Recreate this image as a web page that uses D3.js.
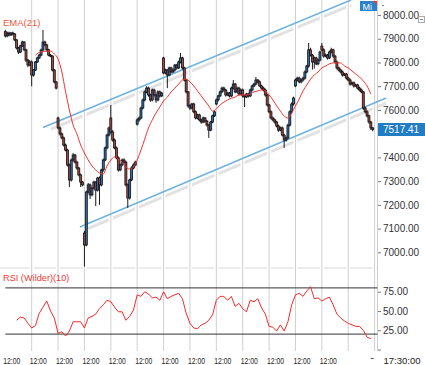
<!DOCTYPE html>
<meta charset="utf-8">
<style>
body { margin: 0; background: #fff; }
svg { display: block; font-family: "Liberation Sans", Arial, sans-serif; }
</style>
<script src="https://d3js.org/d3.v7.min.js"></script>
<div id="chart"></div>
<script>
// half-hour bars, 14 per session, 14 sessions
var opens = [
  7930,7912,7924,7916,7924,7920,7895,7861,7844,7870,7886,7853,7810,7789,
  7802,7747,7768,7802,7819,7831,7853,7886,7874,7853,7831,7827,7768,7718,
  7566,7524,7499,7482,7452,7431,7368,7305,7389,7410,7380,7355,7326,7296,
  7081,7031,7254,7284,7242,7271,7296,7262,7313,7284,7347,7389,7440,7494,
  7566,7507,7473,7440,7398,7347,7368,7389,7380,7284,7229,7305,7355,7368,
  7540,7558,7566,7608,7642,7676,7692,7663,7642,7684,7663,7642,7676,7659,
  7819,7756,7768,7747,7777,7760,7768,7789,7777,7802,7819,7777,7726,7676,
  7617,7608,7625,7592,7566,7579,7558,7549,7566,7553,7536,7515,7549,7575,
  7625,7642,7659,7676,7692,7684,7663,7671,7659,7692,7709,7676,7692,7667,
  7684,7659,7655,7667,7659,7684,7701,7709,7726,7718,7701,7692,7684,7663,
  7621,7592,7566,7558,7549,7532,7515,7524,7494,7473,7482,7536,7592,7625,
  7701,7726,7734,7718,7726,7734,7760,7785,7853,7831,7802,7819,7794,7810,
  7869,7853,7827,7831,7819,7844,7853,7827,7802,7777,7768,7760,7747,7751,
  7734,7726,7709,7714,7701,7705,7692,7684,7676,7608,7592,7575,7549,7524
];
var highs = [
  7938,7930,7930,7928,7930,7924,7898,7866,7874,7892,7890,7858,7815,7810,
  7808,7772,7806,7824,7836,7858,7937,7892,7878,7858,7836,7830,7772,7722,
  7572,7530,7505,7488,7458,7436,7374,7395,7418,7415,7386,7360,7332,7300,
  7090,7260,7292,7290,7276,7302,7300,7318,7320,7352,7395,7446,7500,7530,
  7621,7515,7480,7446,7404,7374,7395,7396,7386,7290,7310,7362,7375,7386,
  7564,7572,7614,7648,7682,7700,7698,7668,7690,7690,7668,7682,7682,7676,
  7824,7774,7772,7782,7782,7774,7794,7794,7808,7840,7824,7782,7730,7680,
  7624,7630,7630,7598,7584,7584,7562,7572,7570,7558,7540,7554,7580,7598,
  7648,7664,7682,7698,7698,7688,7676,7676,7698,7726,7714,7698,7698,7690,
  7690,7664,7672,7672,7690,7706,7714,7739,7730,7724,7706,7698,7690,7668,
  7626,7598,7572,7564,7554,7538,7530,7530,7500,7488,7542,7598,7632,7656,
  7732,7740,7740,7732,7740,7766,7790,7882,7862,7836,7825,7824,7816,7850,
  7882,7860,7838,7836,7850,7862,7858,7832,7808,7782,7774,7766,7756,7756,
  7740,7732,7720,7720,7710,7710,7698,7690,7680,7614,7598,7580,7554,7528
];
var lows = [
  7905,7906,7910,7912,7914,7890,7855,7836,7840,7865,7848,7802,7780,7784,
  7700,7740,7764,7798,7814,7826,7848,7868,7846,7826,7822,7762,7712,7686,
  7518,7492,7476,7446,7425,7362,7275,7298,7382,7374,7348,7320,7275,7278,
  6940,7025,7248,7225,7236,7265,7195,7256,7200,7278,7340,7384,7434,7488,
  7500,7466,7434,7392,7340,7342,7362,7374,7278,7187,7222,7300,7350,7362,
  7534,7550,7560,7602,7636,7670,7656,7634,7636,7656,7630,7636,7652,7654,
  7750,7750,7692,7742,7754,7755,7762,7770,7772,7796,7770,7720,7670,7610,
  7600,7602,7586,7560,7560,7552,7542,7544,7546,7530,7482,7510,7544,7570,
  7620,7636,7654,7670,7678,7656,7658,7652,7654,7686,7670,7670,7660,7662,
  7652,7612,7650,7652,7654,7678,7696,7704,7712,7696,7686,7678,7656,7614,
  7586,7560,7552,7542,7526,7508,7510,7488,7440,7466,7476,7530,7586,7618,
  7696,7720,7712,7712,7720,7728,7754,7778,7825,7770,7774,7788,7788,7804,
  7846,7820,7822,7812,7814,7838,7820,7796,7770,7762,7754,7740,7742,7728,
  7720,7702,7704,7694,7696,7686,7678,7670,7600,7586,7568,7542,7515,7510
];
var closes = [
  7912,7924,7916,7924,7920,7895,7861,7844,7870,7886,7853,7810,7789,7802,
  7747,7768,7802,7819,7831,7853,7886,7874,7853,7831,7827,7768,7718,7692,
  7524,7499,7482,7452,7431,7368,7305,7389,7410,7380,7355,7326,7296,7284,
  7031,7254,7284,7242,7271,7296,7262,7313,7284,7347,7389,7440,7494,7524,
  7507,7473,7440,7398,7347,7368,7389,7380,7284,7229,7305,7355,7368,7380,
  7558,7566,7608,7642,7676,7692,7663,7642,7684,7663,7642,7676,7659,7671,
  7756,7768,7747,7777,7760,7768,7789,7777,7802,7819,7777,7726,7676,7617,
  7608,7625,7592,7566,7579,7558,7549,7566,7553,7536,7515,7549,7575,7592,
  7642,7659,7676,7692,7684,7663,7671,7659,7692,7709,7676,7692,7667,7684,
  7659,7655,7667,7659,7684,7701,7709,7726,7718,7701,7692,7684,7663,7621,
  7592,7566,7558,7549,7532,7515,7524,7494,7473,7482,7536,7592,7625,7650,
  7726,7734,7718,7726,7734,7760,7785,7853,7831,7802,7819,7794,7810,7844,
  7853,7827,7831,7819,7844,7853,7827,7802,7777,7768,7760,7747,7751,7734,
  7726,7709,7714,7701,7705,7692,7684,7676,7608,7592,7575,7549,7524,7517.41
];

// EMA(21), read every second bar from bar 16
var emaStart = 16;
var emaValues = [
  7831,7842,7846,7848,7848,7836,7815,7760,7676,7600,
  7536,7499,7452,7418,7389,7364,7347,7334,7330,7364,
  7389,7402,7393,7380,7359,7351,7359,7389,7431,7477,
  7524,7558,7587,7612,7638,7654,7676,7692,7709,7726,
  7730,7718,7701,7680,7659,7638,7617,7595,7604,7621,
  7633,7642,7650,7654,7663,7663,7663,7667,7676,7680,
  7684,7680,7663,7642,7617,7595,7574,7566,7587,7617,
  7646,7680,7705,7730,7747,7760,7777,7785,7794,7798,
  7798,7798,7785,7777,7764,7751,7739,7722,7701,7667
];

// RSI (Wilder)(10), read every second bar from bar 6
var rsiStart = 6;
var rsiValues = [
  38,42,41,34,28,31,47,55,63,50,
  41,21,23,17.5,24,36,36,36,28,41,
  43,46,53,58,64,62,55,49,49,38,
  43,51,71,69,75,72,67,68,64,75,
  66,69,71,73,66,47,34,28,27,32,
  34,38,45,64,69,69,64,69,56,60,
  53,49,64,62,66,54,46,30,29,24,
  32,24,36,58,71,73,69,76,81.5,66,
  67,63,66,68,58,46,41,37,34,32,
  30,30,25,16,14
];

var priceTicks = [7000,7100,7200,7300,7400,7500,7600,7700,7800,7900,8000];
var rsiTicks = [0,25,50,75];
var rsiLevels = [20,80];
var sessionLabels = ["12:00","12:00","12:00","12:00","12:00","12:00","12:00",
                     "12:00","12:00","12:00","12:00","12:00","12:00"];
var barsPerSession = 14;
var sessionCount = 14;
var lastPrice = 7517.41;
var lastTime = "17:30:00";
// trend channel, [bar, price] at each end
var channelUpper = [[20, 7526], [183.5, 8063]];
var channelLower = [[39.6, 7107], [202.1, 7650]];

var W = 425, H = 365;
var svg = d3.select("#chart").append("svg").attr("width", W).attr("height", H);

var x = d3.scaleLinear().domain([0, barsPerSession * sessionCount]).range([5.3, 374.6]);
var y = d3.scaleLinear().domain([7000, 8000]).range([252.3, 15]);
var yr = d3.scaleLinear().domain([0, 100]).range([349.5, 272.5]);

var axisX = 377.5;

// channel shadows (under the grid)
[channelUpper, channelLower].forEach(function(c) {
  var slope = (y(c[1][1]) - y(c[0][1])) / (x(c[1][0]) - x(c[0][0]));
  svg.append("line")
    .attr("x1", x(c[0][0]) + 8).attr("y1", y(c[0][1]) + 8 * slope + 5)
    .attr("x2", x(c[1][0])).attr("y2", y(c[1][1]) + 5)
    .attr("stroke", "#e2e2e2").attr("stroke-width", 3);
});

// panel separator
svg.append("line").attr("x1", 0).attr("x2", axisX).attr("y1", 268).attr("y2", 268)
  .attr("stroke", "#d6d6d6");

// vertical session grid
var gridIdx = d3.range(1, sessionCount + 1).map(function(k){ return k * barsPerSession; });
svg.selectAll("line.gridw").data(gridIdx).enter().append("line")
  .attr("x1", function(d){ return x(d); }).attr("x2", function(d){ return x(d); })
  .attr("y1", 0).attr("y2", 351).attr("stroke", "#fff").attr("stroke-width", 4);
svg.selectAll("line.grid").data(gridIdx).enter().append("line")
  .attr("x1", function(d){ return x(d); }).attr("x2", function(d){ return x(d); })
  .attr("y1", 0).attr("y2", 351).attr("stroke", "#cfcfcf").attr("stroke-width", 1);

// right axis line
svg.append("line").attr("x1", axisX).attr("x2", axisX).attr("y1", 0).attr("y2", 351)
  .attr("stroke", "#cfcfcf");

// channel lines
[channelUpper, channelLower].forEach(function(c) {
  svg.append("line")
    .attr("x1", x(c[0][0])).attr("y1", y(c[0][1]))
    .attr("x2", x(c[1][0])).attr("y2", y(c[1][1]))
    .attr("stroke", "#6eb3e0").attr("stroke-width", 1.6);
});

// candles
var bars = closes.map(function(c, i) {
  return {i: i, o: opens[i], h: highs[i], l: lows[i], c: c};
});
var cg = svg.append("g");
cg.selectAll("line").data(bars).enter().append("line")
  .attr("x1", function(d){ return x(d.i); }).attr("x2", function(d){ return x(d.i); })
  .attr("y1", function(d){ return y(d.h); }).attr("y2", function(d){ return y(d.l); })
  .attr("stroke", "#1a1a1a").attr("stroke-width", 1);
cg.selectAll("rect").data(bars).enter().append("rect")
  .attr("x", function(d){ return x(d.i) - 1; })
  .attr("width", 2)
  .attr("y", function(d){ return y(Math.max(d.o, d.c)); })
  .attr("height", function(d){ return Math.max(1, Math.abs(y(d.o) - y(d.c))); })
  .attr("fill", function(d){ return d.c >= d.o ? "#2b6fae" : "#a6463f"; })
  .attr("stroke", "#111").attr("stroke-width", 0.8);

// EMA line
var emaLine = d3.line()
  .x(function(d, k){ return x(emaStart + 2 * k); })
  .y(function(d){ return y(d); })
  .curve(d3.curveMonotoneX);
svg.append("path").datum(emaValues).attr("d", emaLine)
  .attr("fill", "none").attr("stroke", "#f2332e").attr("stroke-width", 1);

svg.append("text").attr("x", 3).attr("y", 25.5).attr("font-size", 9.5)
  .attr("fill", "#ee5a3c").text("EMA(21)");

// price axis (the 7500 label sits under the last-price tag)
var ay = svg.append("g").attr("transform", "translate(" + (axisX + 0.5) + ",0)")
  .call(d3.axisRight(y).tickValues(priceTicks)
    .tickFormat(function(d){ return Math.abs(y(d) - y(lastPrice)) < 10 ? "" : d3.format(".2f")(d); })
    .tickSize(3).tickPadding(2));
ay.select(".domain").remove();
ay.attr("font-family", null).attr("font-size", null);
ay.selectAll("text").attr("font-size", 10).attr("fill", "#333");
ay.selectAll("line").attr("stroke", "#777");

// last price tag
svg.append("rect").attr("x", axisX + 0.5).attr("y", y(lastPrice) - 6.5)
  .attr("width", W - axisX).attr("height", 13).attr("fill", "#1f7cc5");
svg.append("text").attr("x", axisX + 5.5).attr("y", y(lastPrice) + 3.6)
  .attr("font-size", 10).attr("fill", "#fff").text(d3.format(".2f")(lastPrice));

// RSI panel
svg.selectAll("line.lvl").data(rsiLevels).enter().append("line")
  .attr("x1", x(0)).attr("x2", axisX)
  .attr("y1", function(d){ return yr(d); }).attr("y2", function(d){ return yr(d); })
  .attr("stroke", "#333").attr("stroke-width", 1);

var rsiLine = d3.line()
  .x(function(d, k){ return x(rsiStart + 2 * k); })
  .y(function(d){ return yr(d); });
svg.append("path").datum(rsiValues).attr("d", rsiLine)
  .attr("fill", "none").attr("stroke", "#f52a2a").attr("stroke-width", 1);

svg.append("text").attr("x", 3).attr("y", 281).attr("font-size", 9.2)
  .attr("fill", "#f03a3a").text("RSI (Wilder)(10)");

var ar = svg.append("g").attr("transform", "translate(" + (axisX + 0.5) + ",0)")
  .call(d3.axisRight(yr).tickValues(rsiTicks)
    .tickFormat(function(d){ return d ? d3.format(".2f")(d) : ""; })
    .tickSize(3).tickPadding(2));
ar.select(".domain").remove();
ar.attr("font-family", null).attr("font-size", null);
ar.selectAll("text").attr("font-size", 10).attr("fill", "#333");
ar.selectAll("line").attr("stroke", "#777");

// time labels
svg.selectAll("text.tl").data(sessionLabels).enter().append("text")
  .attr("x", function(d, k){ return x(k * barsPerSession) - 2; })
  .attr("y", 363.5).attr("font-size", 9.5).attr("fill", "#222")
  .attr("textLength", 17).attr("lengthAdjust", "spacingAndGlyphs")
  .text(function(d){ return d; });
svg.append("line").attr("x1", x(195) - 2).attr("x2", x(195) + 1)
  .attr("y1", 358.5).attr("y2", 358.5).attr("stroke", "#555");
svg.append("text").attr("x", axisX + 6).attr("y", 363.5).attr("font-size", 9.5)
  .attr("fill", "#222").text(lastTime);

// top-right widgets
svg.append("rect").attr("x", 360).attr("y", 1).attr("width", 17).attr("height", 10)
  .attr("fill", "#2a82c9");
svg.append("text").attr("x", 362.5).attr("y", 9.5).attr("font-size", 9)
  .attr("fill", "#fff").text("Mi");
svg.append("path").attr("d", "M373,1L377,1L377,5Z").attr("fill", "#e33");
svg.append("line").attr("x1", 382).attr("x2", 384).attr("y1", 5.5).attr("y2", 5.5)
  .attr("stroke", "#888");
svg.append("rect").attr("x", 418.5).attr("y", 16.5).attr("width", 6).attr("height", 6)
  .attr("fill", "#fff").attr("stroke", "#aaa");
svg.append("line").attr("x1", 420).attr("x2", 423).attr("y1", 19.5).attr("y2", 19.5)
  .attr("stroke", "#888");
</script>
